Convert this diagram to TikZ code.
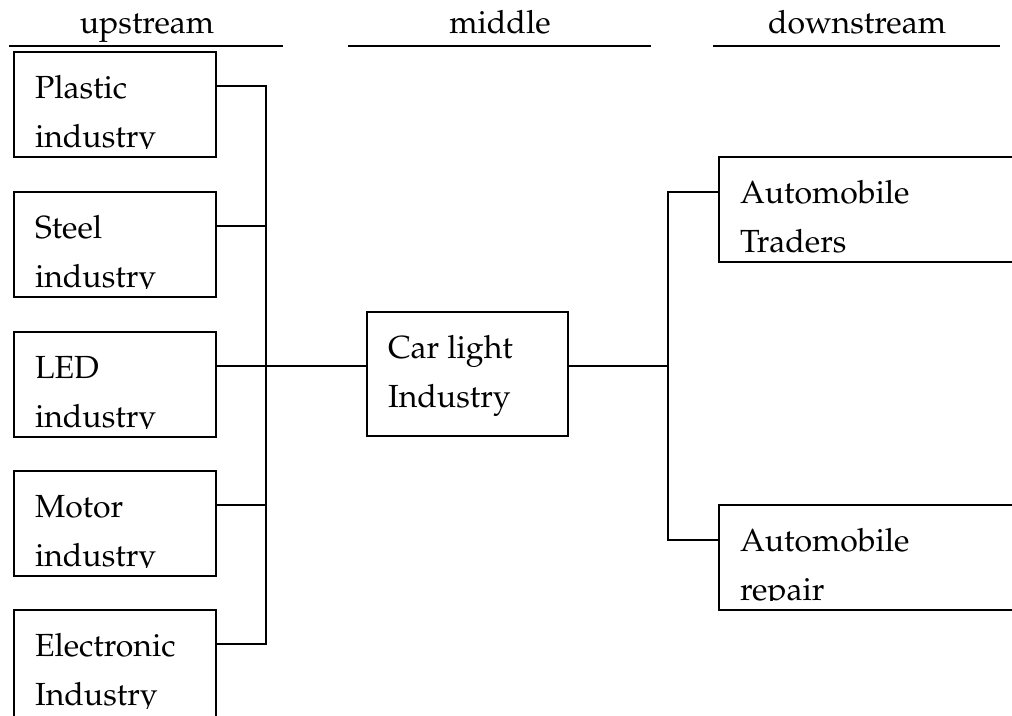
\documentclass[tikz,border=0pt]{standalone}
\usepackage[T1]{fontenc}
\usepackage{mathpazo}
% two lines of text, clipped to the text area of the box they belong to
\newcommand\boxlines[3]{%
  \begin{scope}
    \clip (#1.north west) rectangle ([yshift=6.75pt]#1.south east);
    \node[lbl] (#1-a) at ([shift={(21,46)}]#1.north west) {#2};
    \node[lbl] (#1-b) at ([shift={(21,95)}]#1.north west) {#3};
  \end{scope}}
\begin{document}
\begin{tikzpicture}[x=0.75pt,y=-0.75pt,
  lw/.style={line width=1.4pt},
  box/.style={draw, lw, anchor=north west, inner sep=0pt, outer sep=0pt,
    minimum width=151.5pt, minimum height=78.75pt},
  midbox/.style={box, minimum width=150.75pt, minimum height=93pt},
  rbox/.style={box, minimum width=300pt, minimum height=78.5pt},
  lbl/.style={anchor=base west, inner sep=0pt, outer sep=0pt,
    font=\fontsize{24}{29}\selectfont},
  head/.style={anchor=base, inner sep=0pt, font=\fontsize{24}{29}\selectfont},
  conn/.style={lw}]
\useasboundingbox (0,0) rectangle (1012,715);
\clip (0,0) rectangle (1012,715);

% column headings
\node[head] (hup) at (147,33) {upstream};
\node[head] (hmid) at (500,33) {middle};
\node[head] (hdown) at (857,33) {downstream};
\draw[lw] (9,46) -- (283,46);
\draw[lw] (348,46) -- (651,46);
\draw[lw] (713,46) -- (1000,46);

% upstream industries
\node[box] (plastic) at (14,52) {};
\node[box] (steel) at (14,192) {};
\node[box] (led) at (14,332) {};
\node[box] (motor) at (14,471) {};
\node[box, minimum height=80.25pt] (elec) at (14,610) {};
\boxlines{plastic}{Plastic}{industry}
\boxlines{steel}{Steel}{industry}
\boxlines{led}{LED}{industry}
\boxlines{motor}{Motor}{industry}
\boxlines{elec}{Electronic}{Industry}

% middle
\node[midbox] (car) at (367,312) {};
\boxlines{car}{Car light}{Industry}

% downstream
\node[rbox] (trad) at (719,157) {};
\node[rbox] (rep) at (719,505) {};
\boxlines{trad}{Automobile}{Traders}
\boxlines{rep}{Automobile}{repair}

% junctions
\coordinate (jL) at (266,366);
\coordinate (jR) at (668,366);

\draw[conn] ([yshift=-25.5pt]plastic.north east) -| (jL);
\draw[conn] ([yshift=-25.5pt]steel.north east) -| (jL);
\draw[conn] ([yshift=-25.5pt]motor.north east) -| (jL);
\draw[conn] ([yshift=-25.5pt]elec.north east) -| (jL);
\draw[conn] ([yshift=-25.5pt]led.north east) -- (jL) -- ([yshift=-40.5pt]car.north west);
\draw[conn] ([yshift=-40.5pt]car.north east) -- (jR);
\draw[conn] (jR) |- ([yshift=-26.25pt]trad.north west);
\draw[conn] (jR) |- ([yshift=-26.25pt]rep.north west);
\end{tikzpicture}
\end{document}
